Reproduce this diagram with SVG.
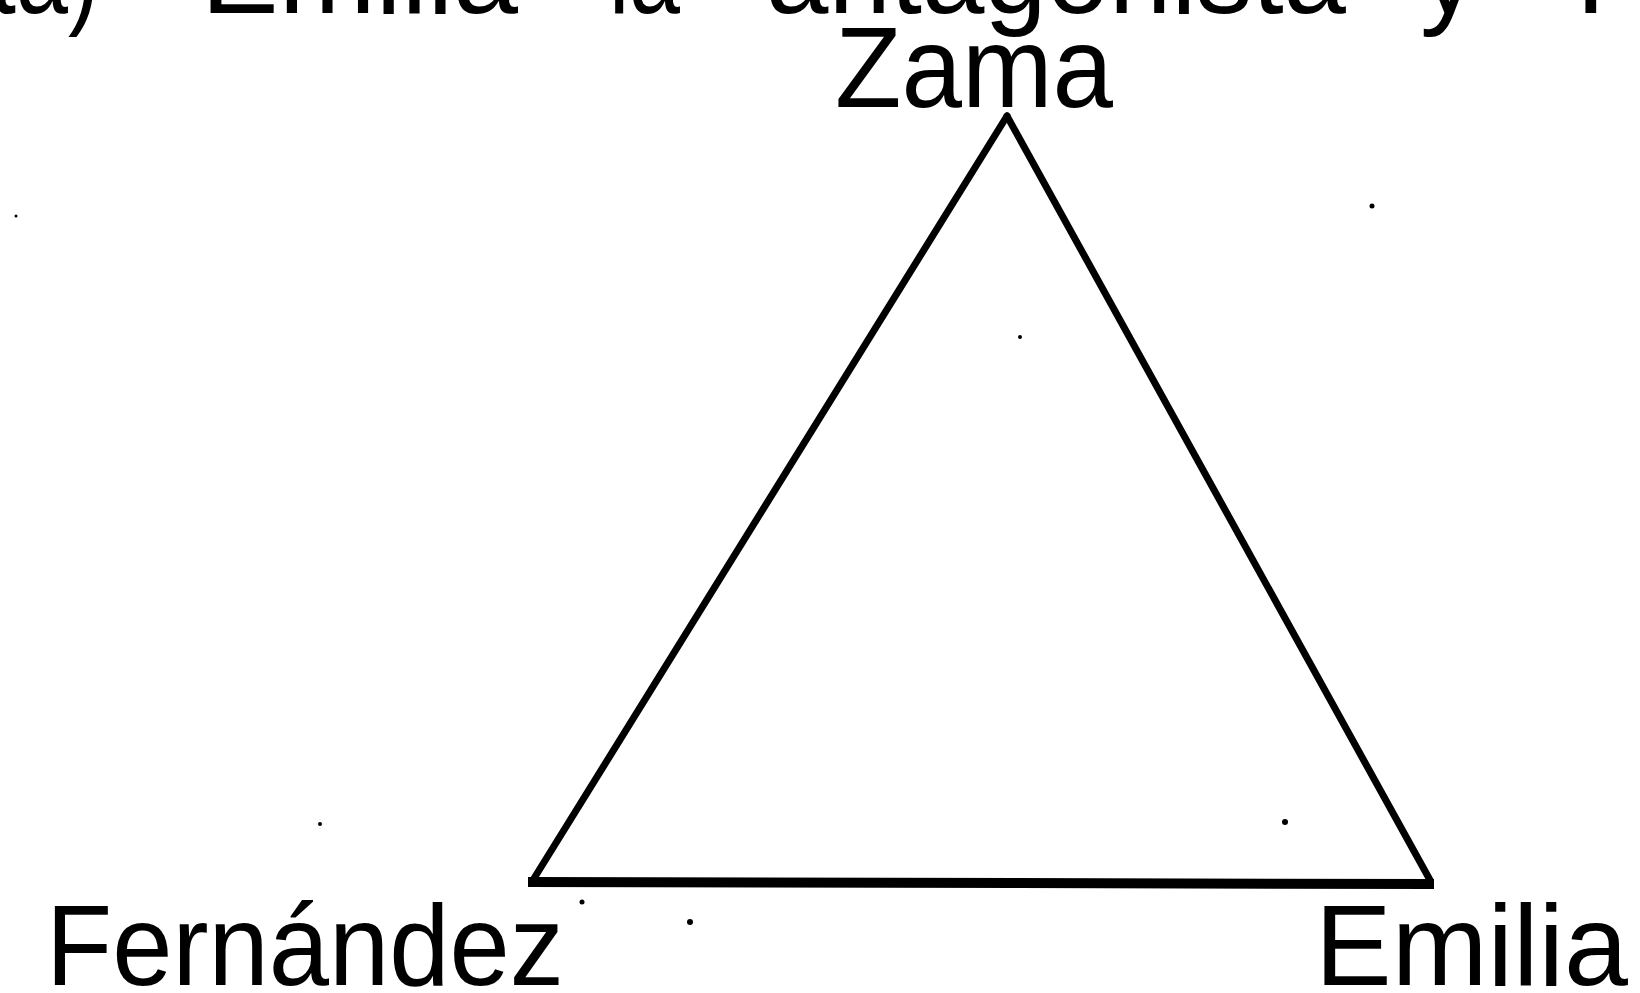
<svg xmlns="http://www.w3.org/2000/svg" width="1640" height="993" viewBox="0 0 1640 993">
  <style>
    .lbl { font-family: "Liberation Sans", Arial, sans-serif; font-size: 115px; fill: #000; }
    .side { stroke: #000; stroke-width: 7; fill: none; stroke-linecap: round; }
    .base { stroke: #000; stroke-width: 10; fill: none; stroke-linecap: butt; }
    .speck { fill: #000; }
  </style>
  <rect width="1640" height="993" fill="#fff"/>

  <g id="caption">
    <text class="lbl" y="13">
      <tspan x="-10" textLength="109" lengthAdjust="spacingAndGlyphs">ta)</tspan>
      <tspan x="201" textLength="317" lengthAdjust="spacingAndGlyphs">Emilia</tspan>
      <tspan x="609" textLength="71" lengthAdjust="spacingAndGlyphs">la</tspan>
      <tspan x="766" textLength="580" lengthAdjust="spacingAndGlyphs">antagonista</tspan>
      <tspan x="1420">y</tspan>
      <tspan x="1576">F</tspan>
    </text>
  </g>

  <g id="connectors">
    <line class="side" x1="1007" y1="116" x2="533" y2="880"/>
    <line class="side" x1="1007" y1="116" x2="1430" y2="880"/>
    <line class="base" x1="528" y1="882" x2="1434" y2="884"/>
  </g>

  <g id="node-zama">
    <text class="lbl" x="835" y="107" textLength="278" lengthAdjust="spacingAndGlyphs">Zama</text>
  </g>
  <g id="node-fernandez">
    <text class="lbl" x="46" y="985" textLength="518" lengthAdjust="spacingAndGlyphs">Fernández</text>
  </g>
  <g id="node-emilia">
    <text class="lbl" x="1315" y="985" textLength="313" lengthAdjust="spacingAndGlyphs">Emilia</text>
  </g>

  <g id="specks">
    <circle class="speck" cx="1372" cy="206" r="2.5"/>
    <circle class="speck" cx="1020" cy="337" r="2"/>
    <circle class="speck" cx="1285" cy="822" r="3"/>
    <circle class="speck" cx="320" cy="824" r="2"/>
    <circle class="speck" cx="582" cy="902" r="2.5"/>
    <circle class="speck" cx="690" cy="922" r="3"/>
    <circle class="speck" cx="16" cy="216" r="1.5"/>
  </g>
</svg>
